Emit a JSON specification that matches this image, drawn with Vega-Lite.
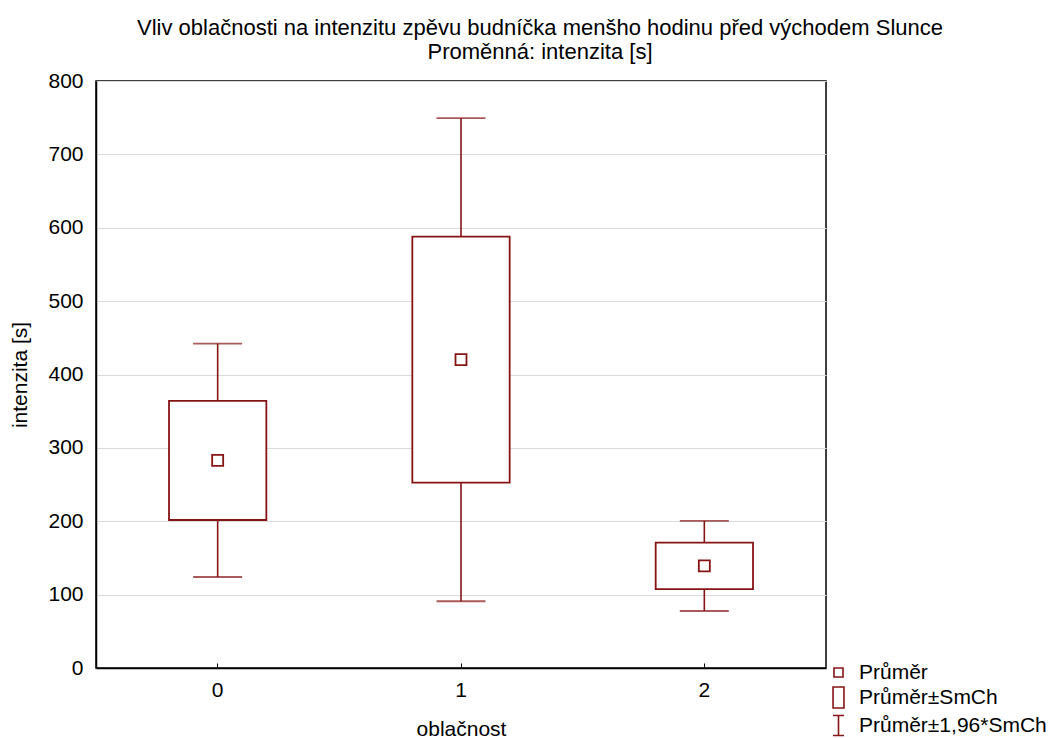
{
  "$schema": "https://vega.github.io/schema/vega-lite/v6.json",
  "width": 730,
  "height": 587,
  "autosize": {"type": "none"},
  "padding": {"left": 96, "top": 81, "right": 238, "bottom": 70},
  "background": "white",
  "title": {
    "text": ["Vliv oblačnosti na intenzitu zpěvu budníčka menšho hodinu před východem Slunce", "Proměnná: intenzita [s]"],
    "anchor": "middle",
    "dx": 79,
    "fontSize": 22,
    "fontWeight": "normal",
    "font": "Liberation Sans",
    "color": "black",
    "lineHeight": 24,
    "offset": 6
  },
  "config": {
    "font": "Liberation Sans",
    "view": {"stroke": "black", "strokeWidth": 1.5},
    "axis": {
      "labelFont": "Liberation Sans",
      "titleFont": "Liberation Sans",
      "labelColor": "black",
      "titleColor": "black",
      "titleFontWeight": "normal",
      "domainColor": "black",
      "domainWidth": 1.5,
      "tickColor": "black"
    }
  },
  "data": {
    "values": [
      {"oblacnost": "0", "stat": "Průměr", "mean": 282.9, "seLo": 201.7, "seHi": 364.0, "ciLo": 124.0, "ciHi": 442.0},
      {"oblacnost": "1", "stat": "Průměr", "mean": 420.2, "seLo": 252.6, "seHi": 587.8, "ciLo": 91.0, "ciHi": 749.5},
      {"oblacnost": "2", "stat": "Průměr", "mean": 139.3, "seLo": 107.6, "seHi": 170.8, "ciLo": 77.7, "ciHi": 200.5}
    ]
  },
  "encoding": {
    "x": {
      "field": "oblacnost",
      "type": "ordinal",
      "title": "oblačnost",
      "scale": {"paddingInner": 0, "paddingOuter": 0},
      "axis": {
        "labelAngle": 0,
        "labelFontSize": 21,
        "titleFontSize": 21,
        "tickSize": -5,
        "labelPadding": 16,
        "titlePadding": 18,
        "grid": false
      }
    }
  },
  "layer": [
    {
      "mark": {"type": "rule", "color": "#861414", "strokeWidth": 1.6},
      "encoding": {
        "y": {
          "field": "ciLo",
          "type": "quantitative",
          "title": "intenzita [s]",
          "scale": {"domain": [0, 800], "nice": false},
          "axis": {
            "values": [0, 100, 200, 300, 400, 500, 600, 700, 800],
            "labelFontSize": 21,
            "titleFontSize": 21,
            "tickSize": 0,
            "labelPadding": 13,
            "titlePadding": 17,
            "grid": true,
            "gridColor": "#dadada",
            "gridWidth": 1
          }
        },
        "y2": {"field": "ciHi"}
      }
    },
    {
      "mark": {"type": "tick", "color": "#861414", "thickness": 1.8, "size": 49},
      "encoding": {"y": {"field": "ciLo", "type": "quantitative"}}
    },
    {
      "mark": {"type": "tick", "color": "#861414", "thickness": 1.8, "size": 49},
      "encoding": {"y": {"field": "ciHi", "type": "quantitative"}}
    },
    {
      "mark": {"type": "bar", "fill": "white", "stroke": "#861414", "strokeWidth": 1.8, "width": {"band": 0.4}},
      "encoding": {
        "y": {"field": "seLo", "type": "quantitative"},
        "y2": {"field": "seHi"}
      }
    },
    {
      "mark": {"type": "point", "filled": false, "stroke": "#861414", "strokeWidth": 1.8, "size": 655, "opacity": 1},
      "encoding": {
        "y": {"field": "mean", "type": "quantitative"},
        "shape": {
          "field": "stat",
          "type": "nominal",
          "scale": {
            "domain": ["Průměr", "Průměr±SmCh", "Průměr±1,96*SmCh"],
            "range": [
              "M-0.43,-0.43H0.43V0.43H-0.43Z",
              "M-0.52,-1H0.52V1H-0.52Z",
              "M-0.52,-0.95H0.52M0,-0.95V0.95M-0.52,0.95H0.52"
            ]
          },
          "legend": {
            "title": null,
            "orient": "none",
            "legendX": 731,
            "legendY": 580,
            "symbolSize": 441,
            "symbolStrokeColor": "#861414",
            "symbolFillColor": "transparent",
            "symbolStrokeWidth": 1.6,
            "symbolOpacity": 1,
            "labelFont": "Liberation Sans",
            "labelFontSize": 21,
            "labelColor": "black",
            "labelOffset": 9,
            "rowPadding": 0,
            "labelLimit": 300
          }
        }
      }
    }
  ]
}
